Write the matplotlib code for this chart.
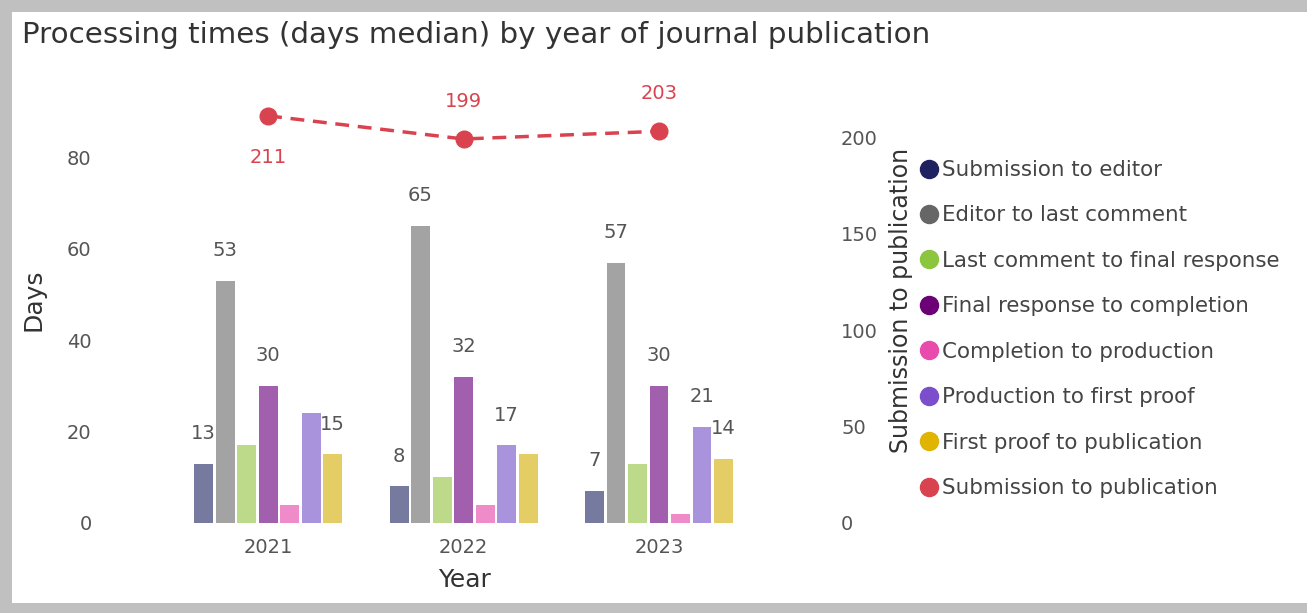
import matplotlib.pyplot as plt
import numpy as np
from matplotlib.patches import Rectangle
from matplotlib.lines import Line2D

years = ["2021", "2022", "2023"]

series_names = [
    "Submission to editor",
    "Editor to last comment",
    "Last comment to final response",
    "Final response to completion",
    "Completion to production",
    "Production to first proof",
    "First proof to publication",
]

# days (median) per stage, one list per year order 2021, 2022, 2023
sub_to_editor = [13, 8, 7]
editor_to_last = [53, 65, 57]
last_to_final = [17, 10, 13]
final_to_completion = [30, 32, 30]
completion_to_production = [4, 4, 2]
production_to_proof = [24, 17, 21]
proof_to_publication = [15, 15, 14]

# which bar labels are visible in the chart
shown_labels = [
    [True, True, True],
    [True, True, True],
    [False, False, False],
    [True, True, True],
    [False, False, False],
    [False, True, True],
    [True, False, True],
]

sub_to_publication = [211, 199, 203]

bar_colors = ["#767a9f", "#a3a3a3", "#bdd98a", "#a15fae", "#ee8bc8", "#a993dc", "#e5cd66"]
legend_colors = ["#1f2161", "#666666", "#8cc63e", "#6b0077", "#e84bab", "#7b4fcc", "#e1b400"]
red = "#d9434f"

W, H = 1307, 613
fig = plt.figure(figsize=(W / 100, H / 100), dpi=100)
fig.patch.set_facecolor("#c0c0c0")
fig.patches.append(Rectangle((12 / W, 10 / H), 1 - 12 / W, 1 - 22 / H,
                             transform=fig.transFigure, facecolor="white",
                             edgecolor="none", zorder=-10))

ax = fig.add_axes([100 / W, (H - 523) / H, 730 / W, 428 / H])
ax.set_facecolor("none")
ax2 = ax.twinx()

all_series = [sub_to_editor, editor_to_last, last_to_final, final_to_completion,
              completion_to_production, production_to_proof, proof_to_publication]
x = np.arange(len(years))
step = 0.11
width = 0.097
for i, vals in enumerate(all_series):
    pos = x + (i - 3) * step
    ax.bar(pos, vals, width=width, color=bar_colors[i], zorder=2)
    for j, v in enumerate(vals):
        if shown_labels[i][j]:
            ax.annotate(str(v), (pos[j], v), xytext=(0, 15), textcoords="offset points",
                        ha="center", va="bottom", fontsize=14, color="#555555")

ax.set_xlim(-0.86, 2.875)
ax.set_ylim(0, 93.7)
ax.set_yticks([0, 20, 40, 60, 80])
ax.set_xticks(x)
ax.set_xticklabels(years)
ax.tick_params(axis="both", length=0, labelsize=14, labelcolor="#555555")
ax.tick_params(axis="y", pad=6)
ax.tick_params(axis="x", pad=11)
ax.set_ylabel("Days", fontsize=18, color="#333333")
ax.yaxis.set_label_coords(-0.075, 0.521)
ax.set_xlabel("Year", fontsize=18, color="#333333", labelpad=8)
for s in ax.spines.values():
    s.set_visible(False)

ax2.plot(x, sub_to_publication, color=red, linestyle=(0, (4, 2.5)), linewidth=2.5,
         marker="o", markersize=12, zorder=3)
offsets = [-42, 37, 38]
for j, v in enumerate(sub_to_publication):
    ax2.annotate(str(v), (x[j], v), xytext=(0, offsets[j] * 0.72), textcoords="offset points",
                 ha="center", va="center", fontsize=14, color=red)
ax2.set_ylim(0, 221.8)
ax2.set_yticks([0, 50, 100, 150, 200])
ax2.tick_params(axis="y", length=0, labelsize=14, labelcolor="#555555", pad=8)
ax2.set_ylabel("Submission to publication", fontsize=17, color="#333333")
ax2.yaxis.set_label_coords(1.081, 0.521)
for s in ax2.spines.values():
    s.set_visible(False)

handles = [Line2D([], [], linestyle="none", marker="o", markersize=13, color=c)
           for c in legend_colors + [red]]
labels = series_names + ["Submission to publication"]
fig.legend(handles, labels, loc="upper left", bbox_to_anchor=(923 / W, 1 - 160 / H),
           frameon=False, fontsize=15.4, labelcolor="#444444", handlelength=0.6,
           handletextpad=0.3, labelspacing=1.19, borderaxespad=0, borderpad=0)

fig.text(22 / W, 1 - 35 / H, "Processing times (days median) by year of journal publication",
         fontsize=21.2, color="#333333", va="center", ha="left")

fig.savefig("out.png", dpi=100, facecolor=fig.get_facecolor())
